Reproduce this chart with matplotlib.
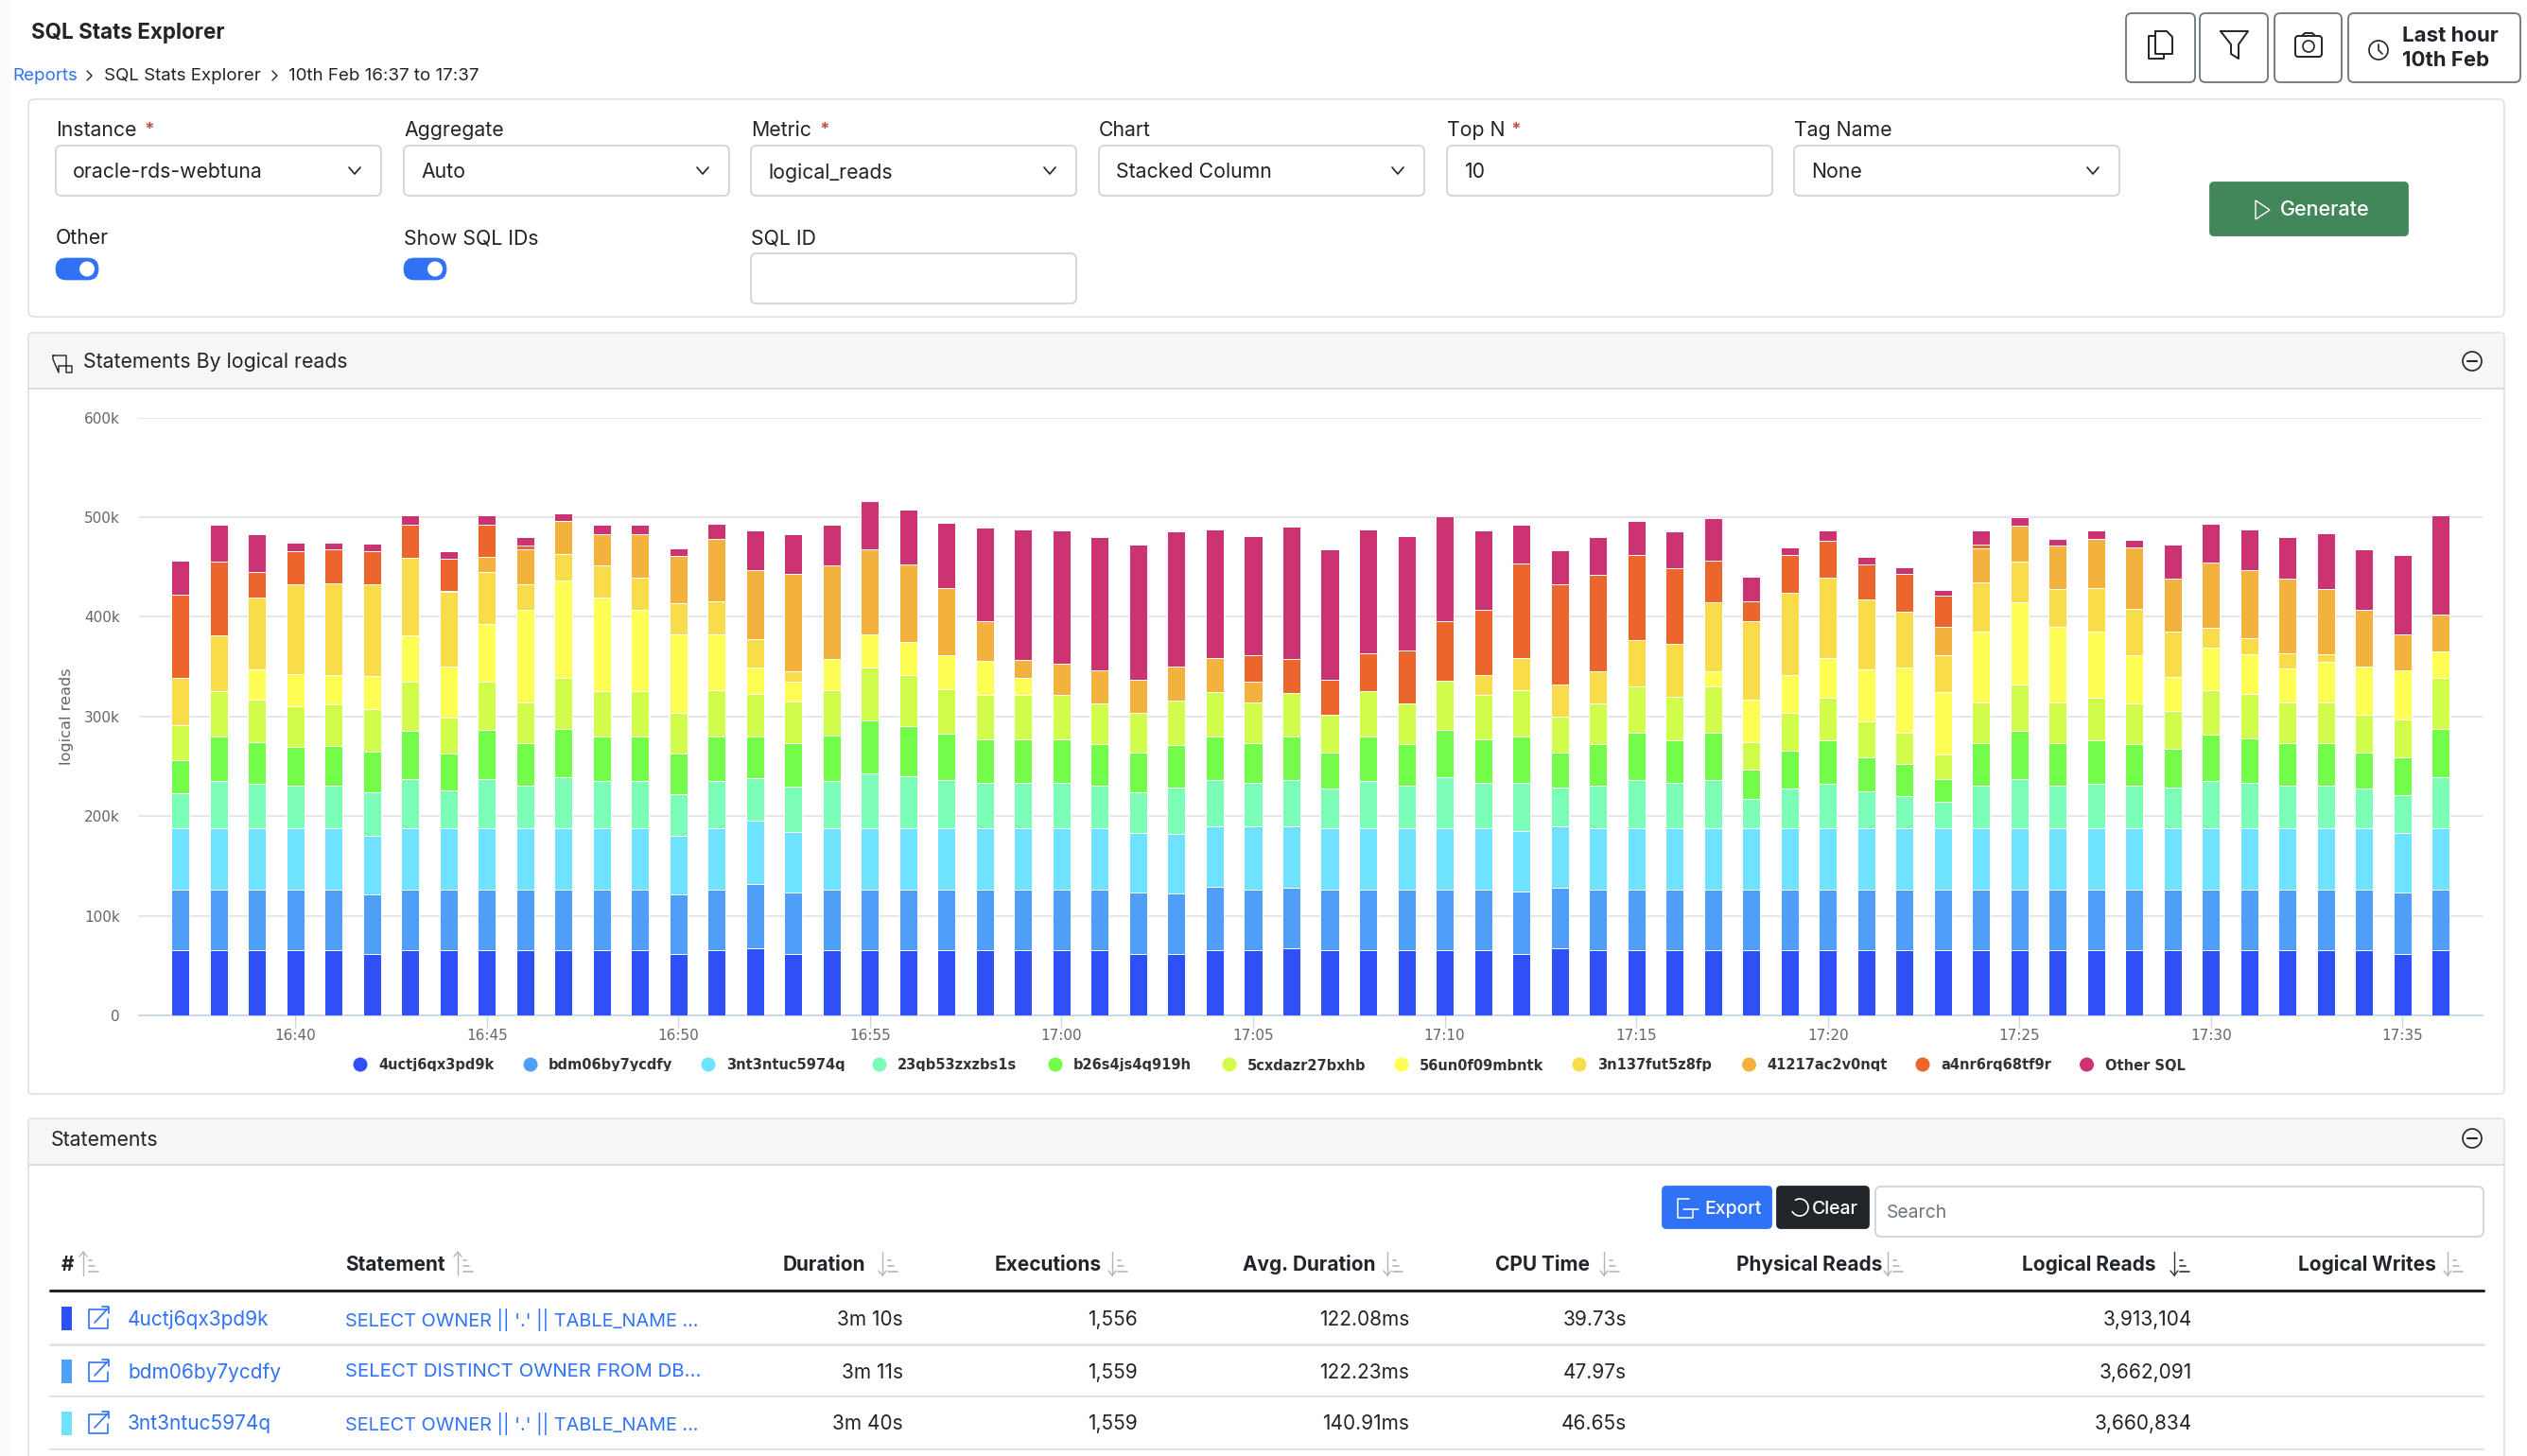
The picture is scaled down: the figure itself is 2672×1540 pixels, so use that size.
import matplotlib
matplotlib.use("Agg")
import numpy as np
import matplotlib.pyplot as plt
from matplotlib.patches import FancyBboxPatch, Rectangle, Circle, Polygon
from matplotlib.transforms import Bbox, TransformedBbox

W, H = 2672, 1540
plt.rcParams['font.family'] = ['Inter', 'DejaVu Sans']

# chart data, in thousands of logical reads, one value per minute 16:37 to 17:36
tick_labels = ["16:40", "16:45", "16:50", "16:55", "17:00", "17:05", "17:10",
               "17:15", "17:20", "17:25", "17:30", "17:35"]
tick_minutes = [3, 8, 13, 18, 23, 28, 33, 38, 43, 48, 53, 58]
y_ticks = [0, 100, 200, 300, 400, 500, 600]
y_labels = ["0", "100k", "200k", "300k", "400k", "500k", "600k"]

s_4uct = [65, 65, 65, 65, 65, 62, 65, 65, 65, 65, 65, 65, 65, 62, 65, 67.5, 62, 65, 65, 65,
          65, 65, 65, 65, 65, 62, 62, 65, 65, 67.5, 65, 65, 65, 65, 65, 62, 67.5, 65, 65, 65,
          65, 65, 65, 65, 65, 65, 65, 65, 65, 65, 65, 65, 65, 65, 65, 65, 65, 65, 62, 65]
s_bdm0 = [61.4, 61.4, 61.4, 61.4, 61.4, 59.6, 61.4, 61.4, 61.4, 61.4, 61.4, 61.4, 61.4, 59.6, 61.4, 64, 61.8, 61.4, 61.4, 61.4,
          61.4, 61.4, 61.4, 61.4, 61.4, 61.8, 60, 63.6, 61.4, 61, 61.4, 61.4, 61.4, 61.4, 61.4, 62.3, 61, 61.4, 61.4, 61.4,
          61.4, 61.4, 61.4, 61.4, 61.4, 61.4, 61.4, 61.4, 61.4, 61.4, 61.4, 61.4, 61.4, 61.4, 61.4, 61.4, 61.4, 61.4, 61.8, 61.4]
s_3nt3 = [61, 61, 61, 61, 61, 58.3, 61, 61, 61, 61, 61, 61, 61, 58.3, 61, 63.6, 60, 61, 61, 61,
          61, 61, 61, 61, 61, 59.6, 60, 61.4, 63.6, 61.4, 61, 61, 61, 61, 61, 60.5, 61.4, 61, 61, 61,
          61, 61, 61, 61, 61, 61, 61, 61, 61, 61, 61, 61, 61, 61, 61, 61, 61, 61, 59.2, 61]
s_23qb = [35.7, 47.5, 44.8, 42.7, 42.7, 44.4, 50.1, 38.8, 50.1, 43.5, 51.4, 47.5, 47.5, 42.2, 47.5, 43.5, 45.7, 47.5, 55.7, 53.1,
          49.2, 46.2, 46.2, 46.2, 43.5, 40.9, 46.2, 46.6, 43.5, 46.6, 40.1, 47.5, 43.5, 51.4, 46.2, 48.8, 38.3, 43.5, 49.2, 46.2,
          49.2, 30, 40.1, 44.8, 37.4, 32.7, 26.6, 43.5, 50.1, 43.5, 44.8, 43.5, 40.9, 47.5, 46.2, 43.5, 43.5, 40.1, 37.9, 51.4]
s_b26s = [33.1, 45.3, 42.2, 39.6, 40.5, 40.5, 47.9, 36.6, 49.2, 42.7, 48.8, 45.3, 45.3, 40.5, 45.3, 41.4, 44, 46.2, 52.7, 50.1,
          46.2, 43.5, 43.5, 43.5, 41.4, 39.6, 43.5, 43.5, 40.1, 43.5, 36.6, 44.8, 41.4, 47.9, 43.5, 46.6, 35.7, 41.4, 47.5, 42.7,
          47.5, 29.6, 37.9, 44, 34, 32.2, 23.5, 42.7, 47.9, 42.7, 44, 41.4, 38.8, 46.6, 44.8, 42.7, 42.7, 36.6, 38.3, 48.8]
s_5cxd = [34.8, 45.3, 42.7, 40.1, 41.4, 42.7, 49.2, 36.1, 47.9, 40.9, 50.9, 45.3, 45.3, 40.9, 46.2, 42.7, 41.8, 45.3, 53.1, 50.5,
          44.8, 44.4, 44.4, 44.4, 40.9, 40.1, 44.4, 44, 40.9, 44, 37.4, 45.7, 40.9, 49.2, 44.4, 46.2, 36.1, 40.9, 46.2, 43.5,
          46.2, 27.4, 38.3, 42.2, 36.1, 31.8, 23.9, 40.9, 47, 40.9, 42.2, 40.9, 38.3, 44.8, 44.4, 40.9, 40.9, 37.4, 37.9, 50.9]
s_56un = [0, 0, 30.5, 33.1, 29.2, 33.1, 46.6, 51.4, 58.3, 92.3, 98, 94, 81.4, 78.8, 56.2, 26.6, 20, 30.9, 33.5, 33.5,
          33.5, 34.4, 17.4, 0, 0, 0, 0, 0, 0, 0, 0, 0, 0, 0, 0, 0, 0, 0, 0, 0,
          15.2, 42.7, 37.4, 40.5, 52.2, 65.3, 63.1, 71, 81.9, 75.8, 67.1, 47.9, 34.4, 43.1, 39.2, 33.5, 40.1, 48.3, 48.8, 27]
s_3n13 = [47.9, 55.7, 71.8, 90.1, 92.7, 91.9, 78.4, 74.5, 51.8, 26.1, 26.6, 32.2, 32.7, 31.3, 33.1, 27.9, 10.4, 0, 0, 0,
          0, 0, 0, 0, 0, 0, 0, 0, 0, 0, 0, 0, 0, 0, 19.6, 32.7, 32.2, 31.8, 46.6, 53.1,
          68.8, 78.8, 82.7, 80.5, 70.1, 55.3, 36.6, 48.8, 41.4, 37.4, 43.5, 46.6, 45.7, 19.6, 16.5, 15.2, 7.8, 0, 0, 0]
s_4121 = [0, 0, 0, 0, 0, 0, 0, 1.3, 15.7, 35.3, 33.1, 31.3, 43.5, 47.5, 62.3, 70.1, 97.1, 94, 84.9, 77.9,
          67.9, 40.1, 18.3, 31.8, 33.1, 33.1, 34, 34.8, 20, 0, 0, 0, 0, 0, 0, 0, 0, 0, 0, 0,
          0, 0, 0, 0, 0, 0, 29.2, 34.4, 35.7, 43.5, 48.8, 62.3, 53.1, 65.3, 68.8, 74.9, 65.3, 57, 36.1, 37]
s_a4nr = [83.6, 74.5, 25.3, 33.1, 33.5, 33.1, 32.7, 31.8, 31.8, 3.5, 0, 0, 0, 0, 0, 0, 0, 0, 0, 0,
          0, 0, 0, 0, 0, 0, 0, 0, 26.6, 34, 35.7, 38.3, 53.1, 60.1, 66.2, 94, 100.6, 97.1, 85.3, 76.2,
          42.2, 19.2, 37.9, 37, 35.3, 38.8, 30.5, 3.5, 0, 0, 0, 0, 0, 0, 0, 0, 0, 0, 0, 0]
s_other = [33.5, 36.6, 37.9, 8.7, 7.4, 7.4, 9.6, 7.8, 9.6, 8.7, 7.8, 9.1, 9.1, 7.8, 15.2, 39.2, 40.1, 40.9, 48.8, 55.3,
           65.3, 93.2, 130.6, 133.2, 134.1, 135, 135.4, 128.9, 120.2, 132.8, 130.6, 124.1, 114.9, 105.4, 79.2, 39.2, 34, 38.3, 34, 36.6,
           42.2, 25.3, 7.8, 10.4, 7.8, 6.5, 6.5, 14.8, 8.3, 7.4, 9.1, 7.4, 33.5, 38.8, 40.5, 42.2, 56.2, 61, 80.5, 99.3]

series_names = ["4uctj6qx3pd9k", "bdm06by7ycdfy", "3nt3ntuc5974q", "23qb53zxzbs1s", "b26s4js4q919h",
                "5cxdazr27bxhb", "56un0f09mbntk", "3n137fut5z8fp", "41217ac2v0nqt", "a4nr6rq68tf9r", "Other SQL"]
series_values = [s_4uct, s_bdm0, s_3nt3, s_23qb, s_b26s, s_5cxd, s_56un, s_3n13, s_4121, s_a4nr, s_other]
series_colors = ["#2f4ff7", "#4f9ff8", "#6fe2ff", "#7bfdb8", "#74fc4b", "#d2fc4c",
                 "#fffe55", "#f9dc4a", "#f3b23d", "#ec652c", "#cc3373"]

# table rows
table_ids = ["4uctj6qx3pd9k", "bdm06by7ycdfy", "3nt3ntuc5974q"]
table_stmt = ["SELECT OWNER || '.' || TABLE_NAME ...", "SELECT DISTINCT OWNER FROM DB...", "SELECT OWNER || '.' || TABLE_NAME ..."]
table_duration = ["3m 10s", "3m 11s", "3m 40s"]
table_execs = ["1,556", "1,559", "1,559"]
table_avg = ["122.08ms", "122.23ms", "140.91ms"]
table_cpu = ["39.73s", "47.97s", "46.65s"]
table_logical = ["3,913,104", "3,662,091", "3,660,834"]

FS = 15.3
DARK = "#212529"
BLUE = "#2f72f5"
LINE = "#dee2e6"

fig = plt.figure(figsize=(W / 100, H / 100), dpi=100, facecolor="white")
ui = fig.add_axes([0, 0, 1, 1])
ui.set_xlim(0, W)
ui.set_ylim(H, 0)
ui.axis("off")


def box(x0, y0, x1, y1, fc="white", ec=LINE, r=6, lw=1.3, z=1):
    ui.add_patch(FancyBboxPatch((x0 + r, y0 + r), x1 - x0 - 2 * r, y1 - y0 - 2 * r,
                                boxstyle="round,pad=%d,rounding_size=%d" % (r, r),
                                fc=fc, ec=ec, lw=lw, zorder=z))


def txt(x, y, s, size=FS, color=DARK, weight="normal", ha="left", **kw):
    return ui.text(x, y + 1.5, s, fontsize=size, color=color, fontweight=weight, ha=ha, va="center",
                   zorder=5, **kw)


def line(xs, ys, color=DARK, lw=1.3, z=4):
    ui.plot(xs, ys, color=color, lw=lw, zorder=z, solid_capstyle="round", solid_joinstyle="round")


def chevron(x, y):
    line([x - 6, x, x + 6], [y - 3, y + 4, y - 3], lw=1.2)


def minus_circle(x, y):
    ui.add_patch(Circle((x, y), 10, fc="none", ec=DARK, lw=1.2, zorder=4))
    line([x - 5, x + 5], [y, y], lw=1.5)


def sort_icon(x, y, up=False, dark=False):
    c = "#333333" if dark else "#b5b5b5"
    line([x, x], [y - 14, y + 11], color=c, lw=1.0)
    if up:
        line([x - 4, x, x + 4], [y - 9, y - 14, y - 9], color=c, lw=1.0)
    else:
        line([x - 4, x, x + 4], [y + 6, y + 11, y + 6], color=c, lw=1.0)
    for i, w in enumerate([3, 6, 10]):
        line([x + 6, x + 6 + w], [y - 5 + i * 6, y - 5 + i * 6], color=c, lw=1.2)


def link_icon(x, y):
    line([x + 10, x - 9, x - 9, x + 11, x + 11], [y - 9, y - 9, y + 11, y + 11, y + 1], color=BLUE, lw=1.2)
    line([x - 3, x + 11], [y + 5, y - 10], color=BLUE, lw=1.2)
    line([x + 5, x + 12, x + 12], [y - 12, y - 12, y - 5], color=BLUE, lw=1.2)


# left shadow and page title
ui.add_patch(Rectangle((0, 0), 12, H, fc="#fbfbfb", ec="none", zorder=0))
txt(33, 33, "SQL Stats Explorer", weight="bold", size=16.2)
txt(13, 79, "Reports", color=BLUE, size=13.5)
txt(110, 79, "SQL Stats Explorer", size=13.5)
txt(305, 79, "10th Feb 16:37 to 17:37", size=13.5)
for cx in (94, 290):
    line([cx - 2, cx + 3, cx - 2], [75, 80, 85], lw=1.0)

# top right buttons
for x0, x1 in [(2248, 2321), (2326, 2398), (2405, 2476), (2483, 2665)]:
    box(x0, y0=14, x1=x1, y1=87, ec="#6c757d", lw=1.3)
line([2279, 2272, 2272, 2288, 2288], [38, 38, 62, 62, 57], lw=1.4)
line([2279, 2291, 2297, 2297, 2279, 2279], [33, 33, 39, 57, 57, 33], lw=1.4)
line([2348, 2377, 2367, 2367, 2359, 2359, 2348], [33, 33, 47, 62, 57, 47, 33], lw=1.4)
box(2427, 38, 2455, 60, fc="none", ec=DARK, r=3, lw=1.4, z=4)
line([2434, 2437, 2445, 2448], [38, 35, 35, 38], lw=1.4)
ui.add_patch(Circle((2441, 49), 6, fc="none", ec=DARK, lw=1.2, zorder=4))
ui.add_patch(Circle((2515, 53), 10, fc="none", ec=DARK, lw=1.2, zorder=4))
line([2515, 2515, 2519], [47, 53, 57], lw=1.2)
txt(2540, 37, "Last hour", weight="bold", size=16)
txt(2540, 63, "10th Feb", weight="bold", size=16)

# filter card
box(30, 105, 2648, 335, ec="#e3e3e3")
field_x = [59, 427, 794, 1162, 1530, 1897]
field_label = ["Instance", "Aggregate", "Metric", "Chart", "Top N", "Tag Name"]
field_value = ["oracle-rds-webtuna", "Auto", "logical_reads", "Stacked Column", "10", "None"]
star_x = [158, None, 872, None, 1603, None]
for i, x in enumerate(field_x):
    txt(x, 136.5, field_label[i])
    if star_x[i]:
        txt(star_x[i], 136, "*", color="#c0504d", weight="bold", size=13.5, ha="center")
    box(x, 154, x + 344, 207, ec="#ced4da")
    txt(x + 18, 181, field_value[i])
    if field_label[i] != "Top N":
        chevron(x + 316, 180)
for x, s in [(59, "Other"), (427, "Show SQL IDs"), (794, "SQL ID")]:
    txt(x, 250.5, s)
for x in (59, 427):
    box(x, 273, x + 45, 296, fc="#2f72f5", ec="#2f72f5", r=11, lw=0.5, z=2)
    ui.add_patch(Circle((x + 33, 284.5), 8, fc="white", ec="none", zorder=3))
box(794, 268, 1138, 321, ec="#ced4da")
box(2337, 193, 2546, 249, fc="#41875a", ec="#41875a", r=4, z=2)
ui.add_patch(Polygon([(2385, 212), (2400, 222), (2385, 232)], closed=True, fc="none", ec="white", lw=1.0, zorder=4))
txt(2411, 220, "Generate", color="white", weight="medium", size=15.5)

# chart card
box(30, 352, 2648, 1157, ec="#e3e3e3", r=4)
ui.add_patch(Rectangle((31, 353), 2616, 58, fc="#f6f6f6", ec="none", zorder=2))
line([31, 2647], [411, 411], color="#dcdcdc", lw=1.4, z=3)
line([56, 70, 70, 76, 76, 62, 62, 56, 56], [376, 376, 394, 394, 387, 387, 394, 380, 376], lw=1.0)
txt(88, 381.5, "Statements By logical reads")
minus_circle(2614, 382)

# statements card
box(30, 1183, 2648, 1560, ec="#e3e3e3", r=4)
ui.add_patch(Rectangle((31, 1184), 2616, 48, fc="#f6f6f6", ec="none", zorder=2))
line([31, 2647], [1232, 1232], color="#dcdcdc", lw=1.4, z=3)
txt(54, 1204, "Statements")
minus_circle(2614, 1204)

box(1758, 1255, 1873, 1299, fc=BLUE, ec=BLUE, r=4, z=2)
txt(1802, 1277, "Export", color="white", weight="medium", size=14)
line([1786, 1774, 1774, 1790, 1790], [1268, 1268, 1288, 1288, 1280], color="white", lw=1.1)
line([1780, 1796], [1279, 1279], color="white", lw=1.1)
box(1879, 1255, 1976, 1299, fc=DARK, ec=DARK, r=4, z=2)
txt(1916, 1277, "Clear", color="white", weight="medium", size=14)
theta = np.radians(np.linspace(-120, 150, 30))
line(1903 + 9 * np.cos(theta), 1277 + 9 * np.sin(theta), color="white", lw=1.2)
box(1983, 1255, 2626, 1308, ec="#ced4da")
txt(1995, 1281.5, "Search", color="#6c757d", size=13.9)

header_x = [65, 365, 828, 1052, 1314, 1581, 1836, 2138, 2430]
header_txt = ["#", "Statement", "Duration", "Executions", "Avg. Duration", "CPU Time",
              "Physical Reads", "Logical Reads", "Logical Writes"]
icon_x = [88, 484, 933, 1176, 1467, 1696, 1996, 2299, 2588]
for i, x in enumerate(header_x):
    txt(x, 1336.5, header_txt[i], weight="bold", size=15)
    sort_icon(icon_x[i], 1338, up=i < 2, dark=i == 7)
line([53, 2626], [1365, 1365], lw=2.2, z=3)
line([53, 2626], [1422, 1422], color=LINE, lw=2.0, z=3)
line([53, 2626], [1477, 1477], color=LINE, lw=1.4, z=3)
line([53, 2626], [1533, 1533], color=LINE, lw=1.4, z=3)

row_y = [1394, 1450, 1505]
stmt_size = [14.3, 14.7, 14.3]
for i, y in enumerate(row_y):
    ui.add_patch(Rectangle((65, y - 12), 11, 25, fc=series_colors[i], ec="none", zorder=3))
    link_icon(103, y)
    txt(135, y, table_ids[i], color=BLUE, size=15)
    txt(365, y, table_stmt[i], color=BLUE, size=stmt_size[i])
    txt(955, y, table_duration[i], ha="right", size=15)
    txt(1203, y, table_execs[i], ha="right", size=15)
    txt(1490, y, table_avg[i], ha="right", size=15)
    txt(1720, y, table_cpu[i], ha="right", size=15)
    txt(2318, y, table_logical[i], ha="right", size=15)

# the stacked chart itself
PL, PR, PT, PB = 146.5, 2625, 441.6, 1074
ax = fig.add_axes([PL / W, 1 - PB / H, (PR - PL) / W, (PB - PT) / H], facecolor="none")
ax.set_xlim(-1.09, 60.09)
ax.set_ylim(0, 600)
x_pos = np.arange(60)
bottom = np.zeros(60)
for vals, name, col in zip(series_values, series_names, series_colors):
    vals = np.array(vals)
    ax.bar(x_pos, vals, 0.47, bottom=bottom, color=col, edgecolor="white", linewidth=0.7, label=name, zorder=3)
    bottom = bottom + vals

for side in ("top", "right", "left"):
    ax.spines[side].set_visible(False)
ax.spines["bottom"].set_color("#ccd6eb")
ax.spines["bottom"].set_linewidth(1.4)
ax.set_yticks(y_ticks)
ax.set_yticklabels(y_labels, family="DejaVu Sans", fontsize=11, color="#666666")
ax.set_xticks(tick_minutes)
ax.set_xticklabels(tick_labels, family="DejaVu Sans", fontsize=11, color="#666666")
ax.tick_params(axis="y", length=0, pad=14)
ax.tick_params(axis="x", length=9, width=1.0, color="#ccd6eb", pad=1)
ax.grid(axis="y", color="#e6e6e6", lw=1.4, zorder=0)
ax.set_axisbelow(True)
ax.set_ylabel("logical reads", family="DejaVu Sans", fontsize=11.6, color="#666666", labelpad=8)

# legend, the reference cuts the descenders off at the bottom of its box
legend_x = [381, 561, 749, 930, 1116, 1300, 1482, 1670, 1849.5, 2033, 2206.5]
legend_clip = TransformedBbox(Bbox([[300, 1110], [2400, 1133]]), ui.transData)
for x, name, col in zip(legend_x, series_names, series_colors):
    ui.add_patch(Circle((x, 1126), 7.5, fc=col, ec="none", zorder=5))
    t = ui.text(x + 19, 1127, name, family="DejaVu Sans", fontsize=10.5, color="#333333",
                fontweight="bold", va="center", zorder=5)
    t.set_clip_box(legend_clip)
    t.set_clip_on(True)

fig.savefig("out.png", dpi=100, facecolor="white")
